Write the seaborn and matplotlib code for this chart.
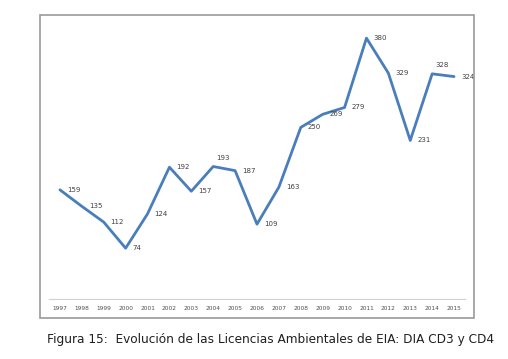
import matplotlib
matplotlib.use("Agg")
import matplotlib.pyplot as plt
import pandas as pd
import seaborn as sns
from matplotlib.patches import Rectangle

years = ["1997", "1998", "1999", "2000", "2001", "2002", "2003", "2004", "2005", "2006",
         "2007", "2008", "2009", "2010", "2011", "2012", "2013", "2014", "2015"]
licencias = [159, 135, 112, 74, 124, 192, 157, 193, 187, 109,
             163, 250, 269, 279, 380, 329, 231, 328, 324]
caption = "Figura 15:  Evolución de las Licencias Ambientales de EIA: DIA CD3 y CD4"

df = pd.DataFrame({"year": years, "value": licencias})
df["pos"] = range(len(df))

sns.set_style("white")
plt.rcParams["font.family"] = ["DejaVu Sans"]

W, H = 508, 359
fig = plt.figure(figsize=(W / 100, H / 100), dpi=100)
ax = fig.add_axes([49 / W, 1 - 299 / H, (465 - 49) / W, (299 - 24.4) / H])

sns.lineplot(data=df, x="pos", y="value", ax=ax, color="#4a7ebb", linewidth=2.0)

# label placement: most to the right, a few above like the original
above = {"2004", "2014"}
for yr, p, v in zip(df["year"], df["pos"], df["value"]):
    if yr in above:
        ax.annotate(str(v), (p, v), xytext=(2, 4), textcoords="offset points",
                    ha="left", va="bottom", fontsize=5, color="#404040")
    else:
        ax.annotate(str(v), (p, v), xytext=(5, 0), textcoords="offset points",
                    ha="left", va="center", fontsize=5, color="#404040")

ax.set_xlim(-0.5, len(df) - 0.5)
ax.set_ylim(0, 400)
ax.set_xticks(df["pos"])
ax.set_xticklabels(df["year"], fontsize=4.2, color="#505050")
ax.tick_params(axis="x", length=0, pad=5)
ax.set_yticks([])
ax.set_xlabel("")
ax.set_ylabel("")
for side in ["top", "left", "right"]:
    ax.spines[side].set_visible(False)
ax.spines["bottom"].set_color("#d0d0d0")
ax.spines["bottom"].set_linewidth(0.8)

# outer chart frame
fig.patches.append(Rectangle((40 / W, 1 - 318 / H), (474 - 40) / W, (318 - 15) / H,
                             transform=fig.transFigure, fill=False,
                             edgecolor="#9a9a9a", linewidth=1.2))

fig.text(271 / W, 1 - 340 / H, caption, ha="center", va="center",
         fontsize=8.7, color="#202020")

fig.savefig("out.png", dpi=100)
